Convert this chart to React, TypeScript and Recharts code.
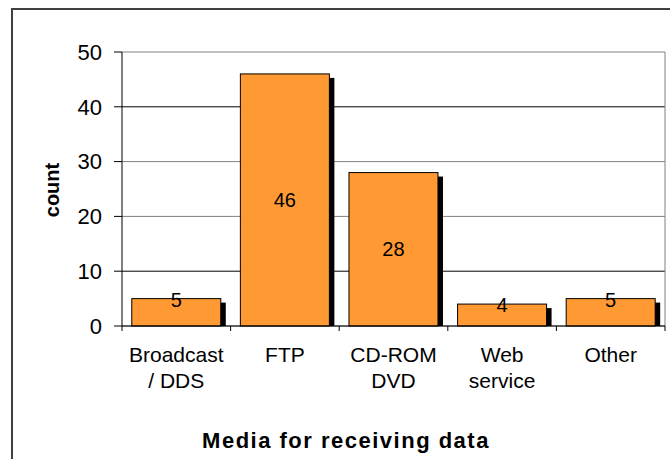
import { BarChart, Bar, XAxis, YAxis, CartesianGrid, LabelList } from "recharts";

const categories = ["Broadcast\n/ DDS", "FTP", "CD-ROM\nDVD", "Web\nservice", "Other"];
const counts = [5, 46, 28, 4, 5];
const yTicks = [0, 10, 20, 30, 40, 50];
const darkGridValues = [10, 40];

const FONT = "'Liberation Sans', Arial, sans-serif";
const ORANGE = "#FF9933";

const data = categories.map((name, i) => ({ name, count: counts[i] }));

/** Orange bar with a black drop shadow to the lower right. */
function ShadowBar(props: any) {
  const { x, y, width, height } = props;
  if (!height || height <= 0) return null;
  return (
    <g>
      <rect x={x + 5} y={y + 4} width={width} height={height - 4} fill="#000" />
      <rect x={x} y={y} width={width} height={height} fill={ORANGE} stroke="#000" strokeWidth={1} />
    </g>
  );
}

function ValueLabel(props: any) {
  const { x, y, width, height, value } = props;
  // small bars get the number on their top edge, tall ones in the middle
  const cy = height > 60 ? y + height / 2 : y + 1;
  return (
    <text
      x={x + width / 2}
      y={cy}
      textAnchor="middle"
      dominantBaseline="central"
      fontSize={20}
      fontFamily={FONT}
      fill="#000"
    >
      {value}
    </text>
  );
}

/** Category label plus tick marks between categories. */
function CategoryTick(props: any) {
  const { x, y, payload, index } = props;
  const half = payload.offset ?? 0;
  const lines = String(payload.value).split("\n");
  return (
    <g>
      <line x1={x - half} x2={x - half} y1={y} y2={y + 5} stroke="#000" />
      {index === categories.length - 1 && (
        <line x1={x + half} x2={x + half} y1={y} y2={y + 5} stroke="#000" />
      )}
      <text textAnchor="middle" fontSize={21} fontFamily={FONT} fill="#000">
        {lines.map((l, i) => (
          <tspan key={i} x={x} y={y + 36 + i * 26}>
            {l}
          </tspan>
        ))}
      </text>
    </g>
  );
}

function GridLine(props: any) {
  const { x1, x2, y1, y2, index } = props;
  const v = yTicks[index];
  const stroke = darkGridValues.includes(v) ? "#000" : "#808080";
  return <line x1={x1} x2={x2} y1={y1} y2={y2} stroke={stroke} strokeWidth={1} />;
}

export default function App() {
  return (
    <div
      style={{
        position: "absolute",
        left: 0,
        top: 0,
        width: 670,
        height: 459,
        overflow: "hidden",
        background: "#fff",
        fontFamily: FONT,
      }}
    >
      <div
        style={{
          position: "absolute",
          left: 11,
          top: 8,
          width: 800,
          height: 600,
          border: "2px solid #404040",
        }}
      />
      <BarChart
        width={670}
        height={459}
        data={data}
        margin={{ top: 52, right: 5, left: 0, bottom: 53 }}
        barCategoryGap="9%"
        style={{ position: "absolute", left: 0, top: 0 }}
      >
        <CartesianGrid
          horizontal={GridLine}
          verticalCoordinatesGenerator={({ offset }: any) => [offset.left + offset.width]}
          stroke="#808080"
        />
        <YAxis
          width={122}
          domain={[0, 50]}
          ticks={yTicks}
          interval={0}
          axisLine={{ stroke: "#000" }}
          tickLine={{ stroke: "#000" }}
          tickSize={8}
          tickMargin={12}
          tick={{ fontSize: 22, fill: "#000", fontFamily: FONT }}
        />
        <XAxis
          dataKey="name"
          height={80}
          interval={0}
          axisLine={{ stroke: "#000" }}
          tickLine={false}
          tickSize={0}
          tickMargin={0}
          tick={<CategoryTick />}
        />
        <Bar dataKey="count" shape={<ShadowBar />} isAnimationActive={false}>
          <LabelList dataKey="count" content={<ValueLabel />} />
        </Bar>
      </BarChart>
      <div
        style={{
          position: "absolute",
          left: 346,
          top: 448,
          transform: "translate(-50%, -80%)",
          fontSize: 22,
          fontWeight: "bold",
          letterSpacing: 1.5,
          whiteSpace: "nowrap",
          lineHeight: 1,
        }}
      >
        Media for receiving data
      </div>
      <div
        style={{
          position: "absolute",
          left: 52,
          top: 190,
          transform: "translate(-50%, -50%) rotate(-90deg)",
          fontSize: 20,
          fontWeight: "bold",
          whiteSpace: "nowrap",
          lineHeight: 1,
        }}
      >
        count
      </div>
    </div>
  );
}
